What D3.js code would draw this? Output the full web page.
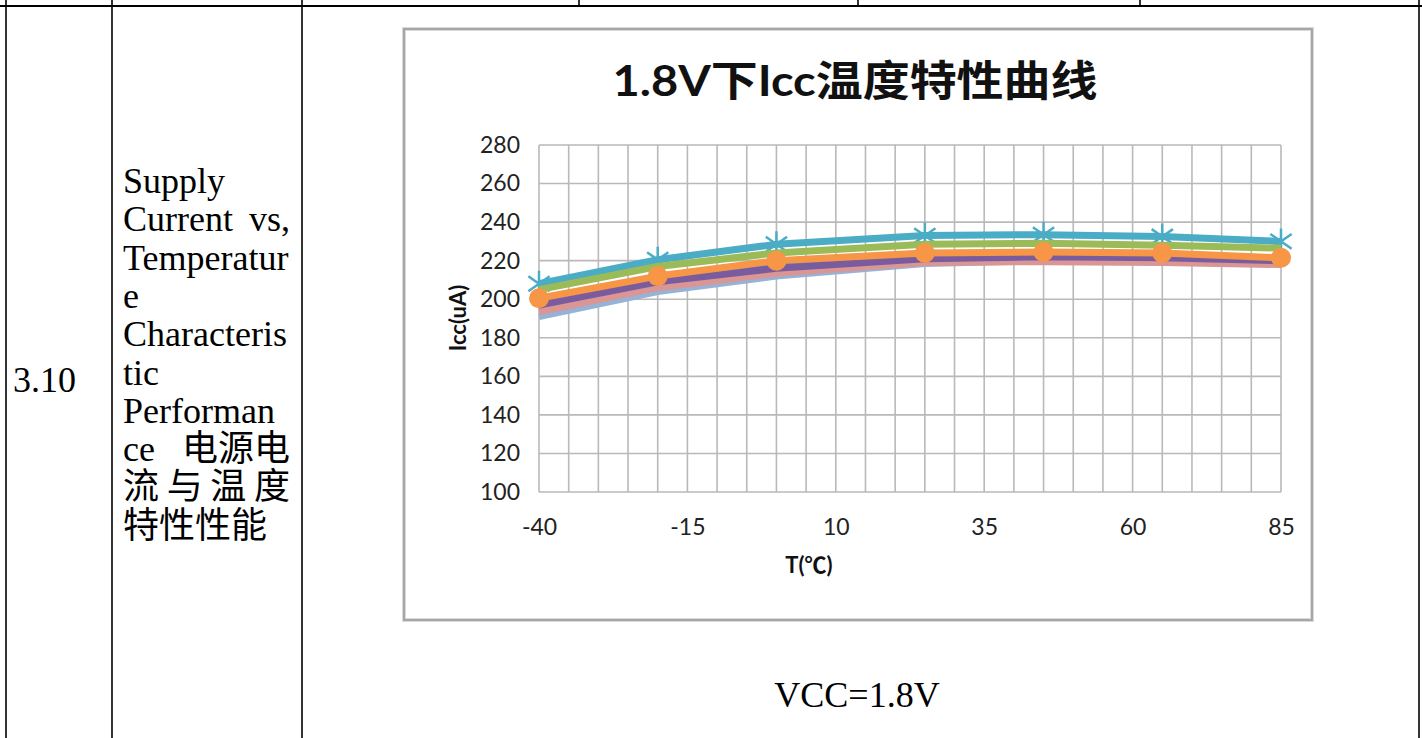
<!DOCTYPE html>
<html>
<head>
<meta charset="utf-8">
<script src="https://cdn.jsdelivr.net/npm/d3@7"></script>
<style>
  html, body { margin: 0; padding: 0; background: #fff; }
  svg { display: block; }
</style>
</head>
<body>
<svg id="page" width="1422" height="738"></svg>
<script>
  // data
  var temps = [-40, -20, 0, 25, 45, 65, 85];
  var yTicks = [100, 120, 140, 160, 180, 200, 220, 240, 260, 280];
  var xTicks = [-40, -15, 10, 35, 60, 85];

  var blueVals      = [198, 209.5, 217, 221.5, 222.5, 222, 220.5];
  var redVals       = [195, 207, 214.5, 220, 221, 220, 219];
  var lightBlueVals = [191, 204, 212, 218.5, 220, 220.5, 219.5];
  var pinkVals      = [193.5, 206, 213.5, 219, 219.5, 219, 218];
  var purpleVals    = [197, 209, 216, 221, 222, 221.5, 220];
  var aquaVals      = [208, 220.5, 228.5, 233, 233.5, 232.5, 230];
  var greenVals     = [205, 217, 224, 228.5, 229, 228, 226.5];
  var orangeVals    = [200.5, 212, 220, 224, 224.5, 224, 221.5];

  var titleText = "1.8V下Icc温度特性曲线";
  var xTitle = "T(℃)";
  var yTitle = "Icc(uA)";

  // draw order: later ones on top
  var series = [
    { values: blueVals,      color: "#4f81bd", marker: "none" },
    { values: redVals,       color: "#c0504d", marker: "none" },
    { values: lightBlueVals, color: "#95b3d7", marker: "none" },
    { values: pinkVals,      color: "#d99694", marker: "none" },
    { values: purpleVals,    color: "#7a5c9e", marker: "none" },
    { values: aquaVals,      color: "#4bacc6", marker: "star" },
    { values: greenVals,     color: "#9bbb59", marker: "none" },
    { values: orangeVals,    color: "#f79646", marker: "circle" }
  ];

  var svg = d3.select("#page");
  var serif = "'Liberation Serif', 'Times New Roman', 'Noto Sans CJK SC', serif";
  var sans = "Lato, 'Noto Sans CJK SC', sans-serif";

  // ---- table frame ----
  var tbl = svg.append("g").attr("stroke", "#000").attr("stroke-width", 1.6);
  tbl.append("line").attr("x1", 0).attr("x2", 1422).attr("y1", 6).attr("y2", 6).attr("stroke-width", 2);
  [6, 112, 302, 1419].forEach(function(x) {
    tbl.append("line").attr("x1", x).attr("x2", x).attr("y1", 0).attr("y2", 738);
  });
  [579, 858, 1140].forEach(function(x) {
    tbl.append("line").attr("x1", x).attr("x2", x).attr("y1", 0).attr("y2", 6);
  });

  svg.append("text").attr("x", 13).attr("y", 392)
    .attr("font-family", serif).attr("font-size", 36).text("3.10");

  var cellLeft = 123, cellRight = 290;
  var lines = [
    ["Supply"], ["Current", "vs,"], ["Temperatur"], ["e"], ["Characteris"],
    ["tic"], ["Performan"], ["ce", "电源电"], ["流与温度", "spread"], ["特性性能"]
  ];
  lines.forEach(function(l, i) {
    var y = 193 + i * 38.3;
    var t = svg.append("text").attr("x", cellLeft).attr("y", y)
      .attr("font-family", serif).attr("font-size", 36).text(l[0]);
    if (l[1] === "spread") {
      t.attr("textLength", cellRight - cellLeft).attr("lengthAdjust", "spacing");
    } else if (l[1]) {
      svg.append("text").attr("x", cellRight).attr("y", y).attr("text-anchor", "end")
        .attr("font-family", serif).attr("font-size", 36).text(l[1]);
    }
  });

  svg.append("text").attr("x", 857).attr("y", 707).attr("text-anchor", "middle")
    .attr("font-family", serif).attr("font-size", 36).text("VCC=1.8V");

  // ---- chart box ----
  svg.append("rect").attr("x", 404).attr("y", 29).attr("width", 908).attr("height", 591)
    .attr("fill", "#fff").attr("stroke", "#d9d9d9").attr("stroke-width", 4);
  svg.append("rect").attr("x", 404).attr("y", 29).attr("width", 908).attr("height", 591)
    .attr("fill", "none").attr("stroke", "#9a9a9a").attr("stroke-width", 1.6);

  svg.append("text").attr("x", 855).attr("y", 96).attr("text-anchor", "middle")
    .attr("font-family", sans).attr("font-weight", "bold").attr("font-size", 42)
    .attr("textLength", 485).attr("lengthAdjust", "spacingAndGlyphs")
    .attr("fill", "#111").text(titleText);

  var x = d3.scaleLinear().domain([-40, 85]).range([539, 1281]);
  var y = d3.scaleLinear().domain([100, 280]).range([492, 145]);

  // grid
  var grid = svg.append("g").attr("stroke", "#b9b9b9").attr("stroke-width", 1.6);
  grid.selectAll("line.v").data(d3.range(-40, 86, 5)).enter().append("line")
    .attr("x1", function(d) { return x(d); }).attr("x2", function(d) { return x(d); })
    .attr("y1", y(280)).attr("y2", y(100));
  grid.selectAll("line.h").data(yTicks).enter().append("line")
    .attr("x1", x(-40)).attr("x2", x(85))
    .attr("y1", function(d) { return y(d); }).attr("y2", function(d) { return y(d); });

  // axes (labels only)
  var plain = function(d) { return String(d); };
  var yAxis = svg.append("g").attr("transform", "translate(" + x(-40) + ",0)")
    .call(d3.axisLeft(y).tickValues(yTicks).tickFormat(plain).tickSize(0).tickPadding(19));
  var xAxis = svg.append("g").attr("transform", "translate(0," + y(100) + ")")
    .call(d3.axisBottom(x).tickValues(xTicks).tickFormat(plain).tickSize(0).tickPadding(27));
  [yAxis, xAxis].forEach(function(a) {
    a.select(".domain").remove();
    a.selectAll("text").attr("font-family", sans).attr("font-size", 23).attr("fill", "#222");
  });

  svg.append("text").attr("x", 809).attr("y", 573).attr("text-anchor", "middle")
    .attr("font-family", sans).attr("font-weight", "bold").attr("font-size", 22)
    .attr("fill", "#111").text(xTitle);
  svg.append("text").attr("transform", "translate(466,318) rotate(-90)")
    .attr("text-anchor", "middle")
    .attr("font-family", sans).attr("font-weight", "bold").attr("font-size", 22)
    .attr("fill", "#111").text(yTitle);

  // series
  var line = d3.line().x(function(d, i) { return x(temps[i]); }).y(function(d) { return y(d); });
  series.forEach(function(s) {
    var g = svg.append("g");
    g.append("path").attr("d", line(s.values)).attr("fill", "none")
      .attr("stroke", s.color).attr("stroke-width", 7).attr("stroke-linejoin", "round");
    s.values.forEach(function(v, i) {
      var cx = x(temps[i]), cy = y(v);
      if (s.marker === "circle") {
        g.append("circle").attr("cx", cx).attr("cy", cy).attr("r", 10).attr("fill", s.color);
      } else if (s.marker === "star") {
        var r = 13, p = "";
        [90, 35, 145].forEach(function(a) {
          var dx = r * Math.cos(a * Math.PI / 180), dy = r * Math.sin(a * Math.PI / 180);
          p += "M" + (cx - dx) + "," + (cy - dy) + "L" + (cx + dx) + "," + (cy + dy);
        });
        g.append("path").attr("d", p).attr("stroke", s.color).attr("stroke-width", 2.5);
      }
    });
  });
</script>
</body>
</html>
